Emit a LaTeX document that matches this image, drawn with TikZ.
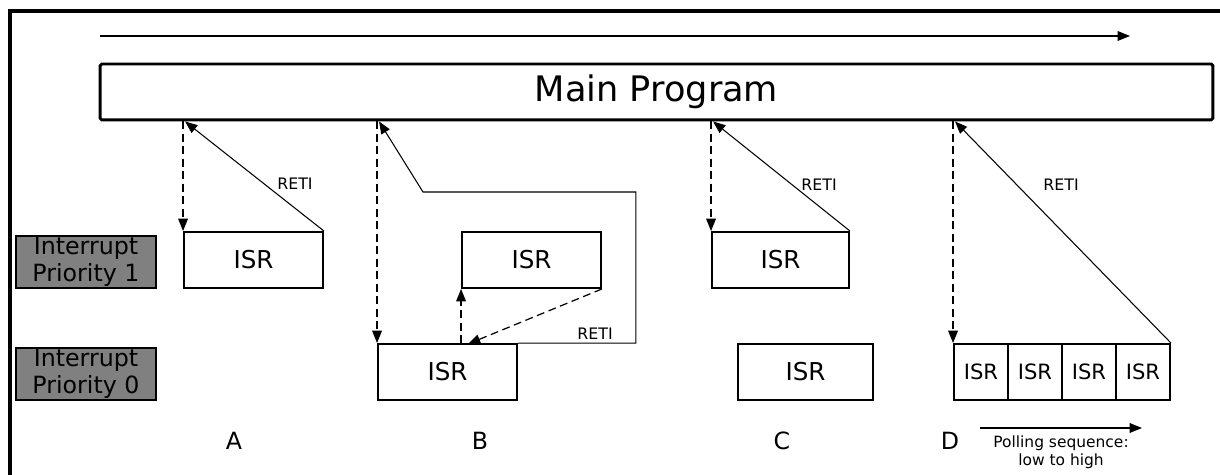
\documentclass[tikz,border=0pt]{standalone}
\usepackage{fontspec}
\setmainfont{DejaVu Sans}
\usetikzlibrary{arrows.meta,calc,positioning}
\definecolor{prioGray}{RGB}{128,128,128}
\definecolor{lineBlack}{RGB}{0,0,0}

\tikzset{
  isr/.style={draw, line width=1.1pt, minimum width=2.78cm, minimum height=1.12cm,
    inner sep=0pt, font=\fontsize{14}{16}\selectfont},
  prio/.style={draw, line width=1.1pt, fill=prioGray, minimum width=2.8cm,
    minimum height=1.04cm, inner sep=0pt, align=center, font=\fontsize{13.5}{15}\selectfont},
  entry/.style={line width=0.7pt, dash pattern=on 4.5pt off 2.6pt,
    -{Triangle[length=7pt,width=5.5pt]}},
  reti/.style={line width=0.6pt, -{Triangle[length=7pt,width=5.5pt]}},
  retilab/.style={font=\fontsize{9}{10}\selectfont},
  caselab/.style={font=\fontsize{13.5}{15}\selectfont},
}

\begin{document}
\begin{tikzpicture}[x=0.02cm, y=-0.02cm]
  \useasboundingbox (0,0) rectangle (1220,475);

  % Frame (only left and top edges show)
  \draw[line width=2.3pt] (10,475) -- (10,11) -- (1220,11);

  % Time line and main program
  \coordinate (tStart) at (100,36);
  \coordinate (tEnd) at (1130,36);
  \draw[reti] (tStart) -- (tEnd);
  \node[draw, line width=1.7pt, rounded corners=1pt, minimum width=22.26cm,
    minimum height=1.12cm, inner sep=0pt, font=\fontsize{20}{24}\selectfont]
    (main) at (656.5,92) {Main Program};

  % Priority labels
  \node[prio] (prio1) at (86,262) {Interrupt\\Priority 1};
  \node[prio] (prio0) at (86,374) {Interrupt\\Priority 0};

  % Case A
  \node[isr] (isrA) at (253.5,260) {ISR};
  \coordinate (topA) at (isrA.north west |- main.south);
  \draw[entry] (topA) -- (isrA.north west);
  \draw[reti] (isrA.north east) -- ($(topA)+(2,0)$);
  \node[retilab] (retiA) at (295,184) {RETI};
  \node[caselab] (labA) at (234,441) {A};

  % Case B
  \node[isr] (isrBlo) at (447.5,372) {ISR};
  \node[isr] (isrBhi) at (531.5,260) {ISR};
  \coordinate (topB) at (isrBlo.north west |- main.south);
  \coordinate (nestB) at (isrBhi.south west |- isrBlo.north);
  \coordinate (backB) at (468,344);
  \draw[entry] (topB) -- (isrBlo.north west);
  \draw[entry] (nestB) -- (isrBhi.south west);
  \draw[entry] (isrBhi.south east) -- (backB);
  \draw[reti] (isrBlo.north east) -- ++(118,0) |- (423,192) -- ($(topB)+(2,0)$);
  \node[retilab] (retiB) at (595,334) {RETI};
  \node[caselab] (labB) at (480,441) {B};

  % Case C
  \node[isr, minimum width=2.74cm] (isrChi) at (780.5,260) {ISR};
  \node[isr, minimum width=2.7cm] (isrClo) at (805.5,372) {ISR};
  \coordinate (topC) at (isrChi.north west |- main.south);
  \draw[entry] (topC) -- (isrChi.north west);
  \draw[reti] (isrChi.north east) -- ($(topC)+(2,0)$);
  \node[retilab] (retiC) at (819,185) {RETI};
  \node[caselab] (labC) at (782,441) {C};

  % Case D: polled ISRs
  \foreach \i/\cx in {1/981, 2/1035, 3/1089, 4/1143}{
    \node[isr, minimum width=1.08cm, font=\fontsize{12}{14}\selectfont] (isrD\i) at (\cx,372) {ISR};
  }
  \coordinate (topD) at (isrD1.north west |- main.south);
  \draw[entry] (topD) -- (isrD1.north west);
  \draw[reti] (isrD4.north east) -- ($(topD)+(2,0)$);
  \node[retilab] (retiD) at (1061,185) {RETI};
  \node[caselab] (labD) at (950,441) {D};

  % Polling order
  \coordinate (pollStart) at (980,428);
  \coordinate (pollEnd) at (1142,428);
  \draw[reti] (pollStart) -- (pollEnd);
  \node[align=center, font=\fontsize{8.8}{10}\selectfont, below=1pt of $(pollStart)!0.5!(pollEnd)$]
    (poll) {Polling sequence:\\low to high};
\end{tikzpicture}
\end{document}
